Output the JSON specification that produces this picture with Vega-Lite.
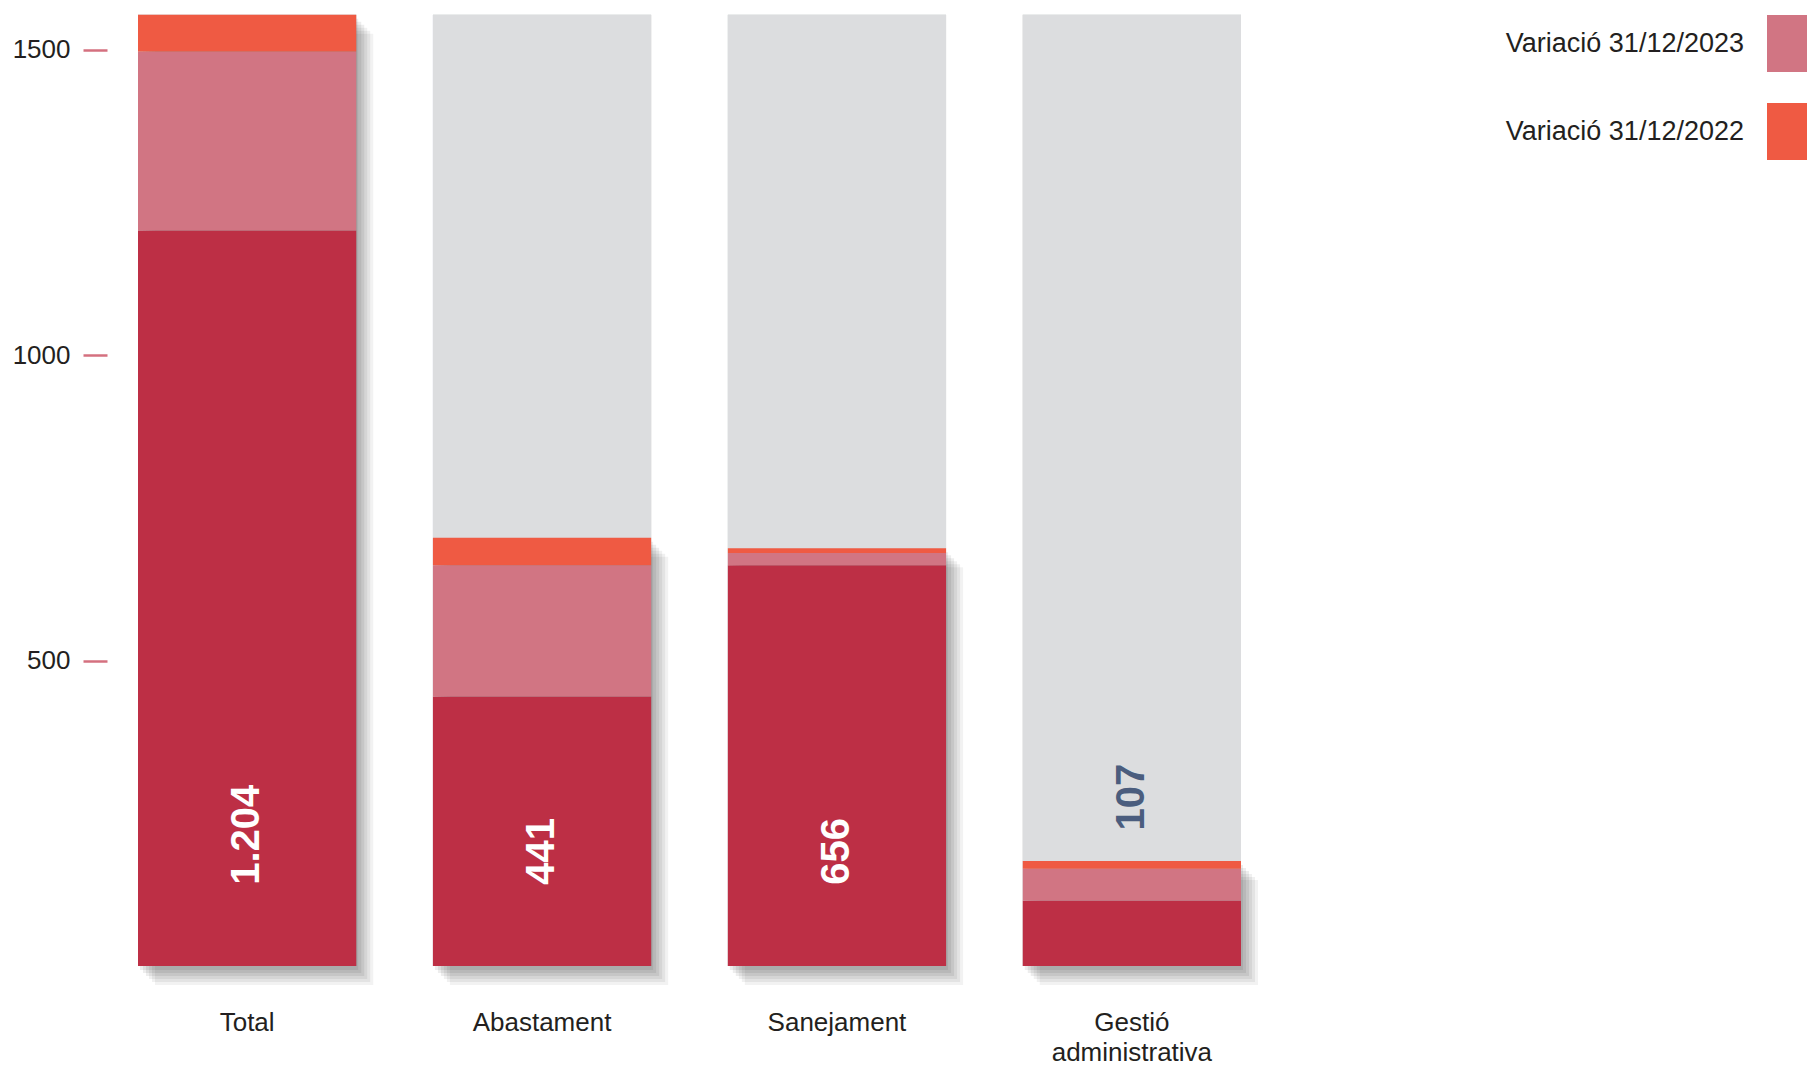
{
  "$schema": "https://vega.github.io/schema/vega-lite/v6.json",
  "autosize": "none",
  "width": 1103,
  "height": 953,
  "padding": {"left": 138, "top": 13, "right": 566, "bottom": 102},
  "background": "#ffffff",
  "config": {
    "view": {"stroke": null},
    "font": "Liberation Sans",
    "locale": {"number": {"decimal": ",", "thousands": ".", "grouping": [3], "currency": ["", " €"]}}
  },
  "data": {
    "values": [
      {"categoria": "Total", "serie": "Base", "ordre": 1, "valor": 1204},
      {"categoria": "Total", "serie": "Variació 31/12/2023", "ordre": 2, "valor": 293},
      {"categoria": "Total", "serie": "Variació 31/12/2022", "ordre": 3, "valor": 60},
      {"categoria": "Abastament", "serie": "Base", "ordre": 1, "valor": 441},
      {"categoria": "Abastament", "serie": "Variació 31/12/2023", "ordre": 2, "valor": 215},
      {"categoria": "Abastament", "serie": "Variació 31/12/2022", "ordre": 3, "valor": 45},
      {"categoria": "Sanejament", "serie": "Base", "ordre": 1, "valor": 656},
      {"categoria": "Sanejament", "serie": "Variació 31/12/2023", "ordre": 2, "valor": 20},
      {"categoria": "Sanejament", "serie": "Variació 31/12/2022", "ordre": 3, "valor": 8},
      {"categoria": "Gestió administrativa", "serie": "Base", "ordre": 1, "valor": 107},
      {"categoria": "Gestió administrativa", "serie": "Variació 31/12/2023", "ordre": 2, "valor": 52},
      {"categoria": "Gestió administrativa", "serie": "Variació 31/12/2022", "ordre": 3, "valor": 13}
    ]
  },
  "encoding": {
    "x": {
      "field": "categoria",
      "type": "nominal",
      "sort": ["Total", "Abastament", "Sanejament", "Gestió administrativa"],
      "scale": {"paddingInner": 0.26, "paddingOuter": 0},
      "axis": {
        "title": null,
        "domain": false,
        "ticks": false,
        "labelAngle": 0,
        "labelPadding": 43,
        "labelFontSize": 26,
        "labelFont": "Liberation Sans",
        "labelColor": "#231f20",
        "labelExpr": "split(datum.label, ' ')",
        "labelLineHeight": 30
      }
    }
  },
  "layer": [
    {
      "mark": {"type": "bar", "color": "#dcdddf"},
      "encoding": {
        "y": {
          "datum": 1557,
          "type": "quantitative",
          "scale": {"domain": [0, 1560], "nice": false},
          "axis": {
            "title": null,
            "values": [500, 1000, 1500],
            "format": "d",
            "domain": false,
            "grid": false,
            "tickSize": 24,
            "tickColor": "#d4707f",
            "tickWidth": 2.5,
            "offset": 31,
            "labelPadding": 13,
            "labelFontSize": 26,
            "labelFont": "Liberation Sans",
            "labelColor": "#231f20"
          }
        }
      }
    },
    {
      "mark": {"type": "bar", "color": "#000000", "opacity": 0.05, "xOffset": 17, "x2Offset": 17, "yOffset": 19, "y2Offset": 19},
      "encoding": {"y": {"aggregate": "sum", "field": "valor", "type": "quantitative", "stack": null}, "y2": {"datum": 0}}
    },
    {
      "mark": {"type": "bar", "color": "#000000", "opacity": 0.06, "xOffset": 14, "x2Offset": 14, "yOffset": 16, "y2Offset": 16},
      "encoding": {"y": {"aggregate": "sum", "field": "valor", "type": "quantitative", "stack": null}, "y2": {"datum": 0}}
    },
    {
      "mark": {"type": "bar", "color": "#000000", "opacity": 0.06, "xOffset": 11, "x2Offset": 11, "yOffset": 13, "y2Offset": 13},
      "encoding": {"y": {"aggregate": "sum", "field": "valor", "type": "quantitative", "stack": null}, "y2": {"datum": 0}}
    },
    {
      "mark": {"type": "bar", "color": "#000000", "opacity": 0.07, "xOffset": 8, "x2Offset": 8, "yOffset": 10, "y2Offset": 10},
      "encoding": {"y": {"aggregate": "sum", "field": "valor", "type": "quantitative", "stack": null}, "y2": {"datum": 0}}
    },
    {
      "mark": {"type": "bar", "color": "#000000", "opacity": 0.07, "xOffset": 5, "x2Offset": 5, "yOffset": 7, "y2Offset": 7},
      "encoding": {"y": {"aggregate": "sum", "field": "valor", "type": "quantitative", "stack": null}, "y2": {"datum": 0}}
    },
    {
      "mark": {"type": "bar", "color": "#000000", "opacity": 0.07, "xOffset": 2, "x2Offset": 2, "yOffset": 4, "y2Offset": 4},
      "encoding": {"y": {"aggregate": "sum", "field": "valor", "type": "quantitative", "stack": null}, "y2": {"datum": 0}}
    },
    {
      "mark": {"type": "bar"},
      "encoding": {
        "y": {"field": "valor", "type": "quantitative", "stack": "zero"},
        "order": {"field": "ordre", "type": "quantitative", "sort": "ascending"},
        "color": {
          "field": "serie",
          "type": "nominal",
          "scale": {
            "domain": ["Base", "Variació 31/12/2023", "Variació 31/12/2022"],
            "range": ["#bd2f45", "#d17583", "#ef5a43"]
          },
          "legend": {
            "values": ["Variació 31/12/2023", "Variació 31/12/2022"],
            "orient": "none",
            "legendX": 1629,
            "legendY": 2,
            "title": null,
            "padding": 0,
            "symbolType": "square",
            "symbolSize": 3249,
            "symbolStrokeWidth": 0,
            "symbolOpacity": 1,
            "labelAlign": "right",
            "labelBaseline": "middle",
            "labelOffset": -80,
            "labelFontSize": 27,
            "labelFont": "Liberation Sans",
            "labelColor": "#231f20",
            "labelLimit": 600,
            "rowPadding": 31
          }
        }
      }
    },
    {
      "transform": [
        {"filter": "datum.serie == 'Base' && datum.categoria != 'Gestió administrativa'"}
      ],
      "mark": {
        "type": "text",
        "angle": 270,
        "align": "left",
        "baseline": "middle",
        "color": "#ffffff",
        "font": "Liberation Sans",
        "fontWeight": "bold",
        "fontSize": 40
      },
      "encoding": {
        "y": {"datum": 133, "type": "quantitative"},
        "text": {"field": "valor", "type": "quantitative", "format": ",d"}
      }
    },
    {
      "transform": [
        {"filter": "datum.serie == 'Base' && datum.categoria == 'Gestió administrativa'"}
      ],
      "mark": {
        "type": "text",
        "angle": 270,
        "align": "left",
        "baseline": "middle",
        "color": "#4b5d7e",
        "font": "Liberation Sans",
        "fontWeight": "bold",
        "fontSize": 40
      },
      "encoding": {
        "y": {"datum": 222, "type": "quantitative"},
        "text": {"field": "valor", "type": "quantitative", "format": ",d"}
      }
    }
  ]
}
